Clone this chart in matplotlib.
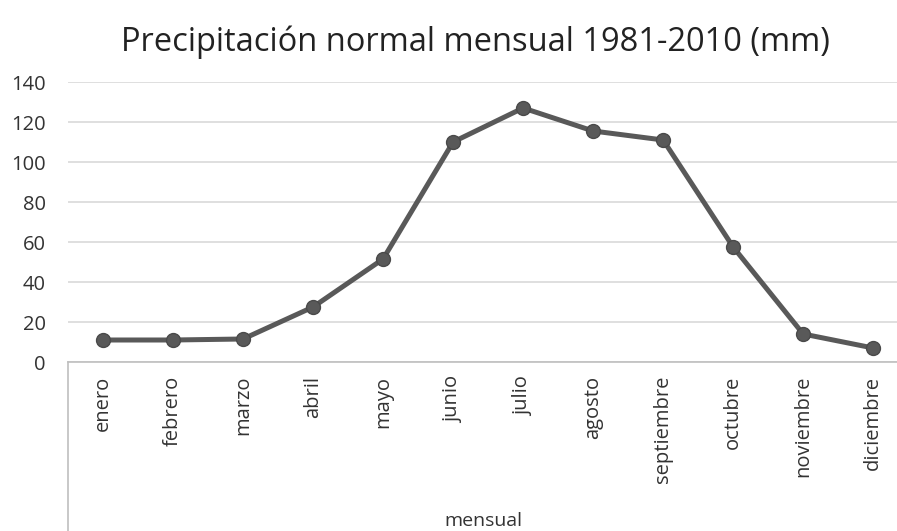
import matplotlib.pyplot as plt

# data (mm)
meses = ["enero", "febrero", "marzo", "abril", "mayo", "junio", "julio",
         "agosto", "septiembre", "octubre", "noviembre", "diciembre"]
precip = [11, 11, 11.5, 27.5, 51.5, 110, 127, 115.5, 111, 57.5, 14, 7]
yticks = [0, 20, 40, 60, 80, 100, 120, 140]

plt.rcParams['font.family'] = ['Open Sans', 'DejaVu Sans']

fig = plt.figure(figsize=(8.97, 5.31), dpi=100)
W, H = 897, 531
# axes spans y=0 (px 362) to y=140 (px 82)
ax = fig.add_axes([68 / W, 1 - 362 / H, 1 - 68 / W, (362 - 82) / H])

x = list(range(len(meses)))
ax.plot(x, precip, color='#595959', lw=3.6, marker='o', ms=10,
        markerfacecolor='#595959', markeredgecolor='#4a4a4a', zorder=3)

ax.set_ylim(0, 140)
ax.set_xlim(-0.5, 11.34)
ax.set_yticks(yticks)
ax.set_xticks(x)
ax.set_xticklabels(meses, rotation=90, va='top', ha='center')
ax.tick_params(axis='both', length=0, labelsize=14.5, colors='#333333')
ax.tick_params(axis='x', pad=10)
ax.tick_params(axis='y', pad=16)
for lbl in ax.get_yticklabels():
    lbl.set_horizontalalignment('right')

ax.grid(axis='y', color='#d9d9d9', lw=1.2)
ax.set_axisbelow(True)
for s in ['top', 'right', 'left']:
    ax.spines[s].set_visible(False)
ax.spines['bottom'].set_color('#bfbfbf')
ax.spines['bottom'].set_linewidth(1.2)

# category box line down the left side below the axis
ax.plot([-0.5, -0.5], [0, -(531 - 362) / 2], color='#bfbfbf', lw=1.2,
        clip_on=False)

fig.text(483 / W, 1 - 521 / H, "mensual", ha='center', va='center',
         fontsize=14, color='#333333')
fig.text(475 / W, 1 - 42 / H, "Precipitación normal mensual 1981-2010 (mm)",
         ha='center', va='center', fontsize=23.5, color='#222222')

fig.savefig("out.png", dpi=100)
